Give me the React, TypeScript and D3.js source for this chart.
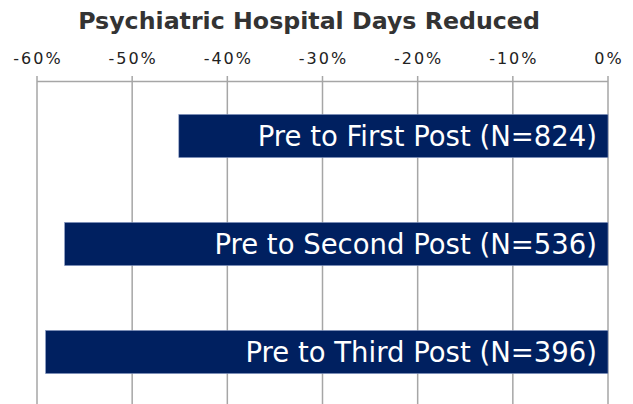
import React, { useEffect, useRef } from 'react';
import * as d3 from 'd3';

// 分类与数值
const categories = ['Pre to First Post (N=824)', 'Pre to Second Post (N=536)', 'Pre to Third Post (N=396)'];
const values = [-0.451, -0.571, -0.591];
const tickValues = [-0.6, -0.5, -0.4, -0.3, -0.2, -0.1, 0];

const App: React.FC = () => {
  const ref = useRef<SVGSVGElement>(null);

  useEffect(() => {
    if (!ref.current) return;
    const svg = d3.select(ref.current);
    svg.selectAll('*').remove();

    const width = 633;
    const height = 404;

    // 横轴：-60% 到 0%
    const x = d3.scaleLinear().domain([-0.6, 0]).range([37, 608]);
    const y = d3.scaleBand<string>()
      .domain(categories)
      .range([82, 406])
      .paddingInner(0.6)
      .paddingOuter(0.3);

    svg.append('rect').attr('width', width).attr('height', height).attr('fill', '#fff');

    // 标题
    svg.append('text')
      .attr('x', 309)
      .attr('y', 29)
      .attr('text-anchor', 'middle')
      .attr('font-family', 'DejaVu Sans, Verdana, sans-serif')
      .attr('font-weight', 'bold')
      .attr('font-size', 23.7)
      .attr('fill', '#333')
      .text('Psychiatric Hospital Days Reduced');

    // 网格线
    svg.append('g')
      .selectAll('line')
      .data(tickValues)
      .enter()
      .append('line')
      .attr('x1', d => x(d))
      .attr('x2', d => x(d))
      .attr('y1', 76)
      .attr('y2', height)
      .attr('stroke', '#a6a6a6')
      .attr('stroke-width', 1.5);

    // 顶部坐标轴线
    svg.append('line')
      .attr('x1', x(-0.6))
      .attr('x2', x(0))
      .attr('y1', 81.5)
      .attr('y2', 81.5)
      .attr('stroke', '#a6a6a6')
      .attr('stroke-width', 1.5);

    // 刻度标签
    svg.append('g')
      .selectAll('text')
      .data(tickValues)
      .enter()
      .append('text')
      .attr('x', d => x(d) + 1)
      .attr('y', 64)
      .attr('text-anchor', 'middle')
      .attr('font-family', 'DejaVu Sans, Tahoma, sans-serif')
      .attr('font-size', 16)
      .attr('letter-spacing', 2)
      .attr('fill', '#222')
      .text(d => d3.format('.0%')(d).replace('−', '-'));

    // 条形
    const rows = svg.append('g')
      .selectAll('g')
      .data(categories.map((c, i) => ({ c, v: values[i] })))
      .enter()
      .append('g');

    rows.append('rect')
      .attr('x', d => x(d.v))
      .attr('y', d => y(d.c)!)
      .attr('width', d => x(0) - x(d.v))
      .attr('height', y.bandwidth())
      .attr('fill', '#002060')
      .attr('stroke', '#8a9cc4')
      .attr('stroke-width', 0.6);

    rows.append('text')
      .attr('x', x(0) - 11)
      .attr('y', d => y(d.c)! + y.bandwidth() / 2)
      .attr('dy', '0.36em')
      .attr('text-anchor', 'end')
      .attr('font-family', 'DejaVu Sans, Verdana, sans-serif')
      .attr('font-size', 27.5)
      .attr('fill', '#fff')
      .text(d => d.c);
  }, []);

  return (
    <svg
      ref={ref}
      width={633}
      height={404}
      style={{ position: 'absolute', left: 0, top: 0, display: 'block' }}
    />
  );
};

export default App;
